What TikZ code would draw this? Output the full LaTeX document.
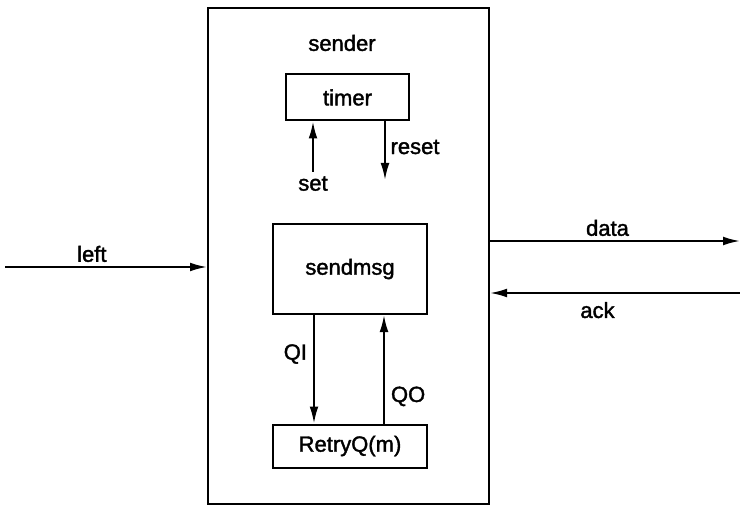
\documentclass[tikz,border=0pt]{standalone}
\usepackage{fontspec}
\setmainfont{Liberation Sans}[BoldFont=Liberation Sans,BoldFeatures={FakeBold=1.6}]
\usepackage{tikz}
\usetikzlibrary{positioning,arrows.meta}

\begin{document}
\begin{tikzpicture}[
    x=0.5pt,y=-0.5pt,
    box/.style={draw,line width=1pt,inner sep=0pt,font=\fontsize{11}{13}\selectfont\bfseries},
    lbl/.style={inner sep=1pt,font=\fontsize{11}{13}\selectfont\bfseries},
    arr/.style={line width=1pt,-{Latex[length=8.5pt,width=4.4pt]}}
  ]
    \useasboundingbox (0,0) rectangle (740,508);
    % outer process box
    \node[box,minimum width=140.5pt,minimum height=248pt] (sender) at (348.5,256) {};
    \node[lbl] (sendername) at (342,43) {sender};
    % inner boxes
    \node[box,minimum width=61.5pt,minimum height=23pt] (timer) at (347.5,97.5) {timer};
    \node[box,minimum width=77pt,minimum height=45pt] (sendmsg) at (350,269) {sendmsg};
    \node[box,minimum width=77pt,minimum height=21.5pt] (retry) at (350,446) {RetryQ(m)};
    % free ends
    \coordinate (setin) at (313,172);
    \coordinate (resetout) at (385,180);
    \coordinate (leftin) at (5,267);
    \coordinate (dataout) at (740,241);
    \coordinate (ackin) at (740,293);
    % timer signals
    \draw[arr] (setin) -- (setin |- timer.south);
    \draw[arr] (resetout |- timer.south) -- (resetout);
    \node[lbl,below=1pt of setin] (setlbl) {set};
    \node[lbl] (resetlbl) at (415,147) {reset};
    % queue
    \draw[arr] ([xshift=-18pt]sendmsg.south) -- ([xshift=-18pt]retry.north) node[lbl,pos=0.36,left=2pt] (qilbl) {QI};
    \draw[arr] ([xshift=17pt]retry.north) -- ([xshift=17pt]sendmsg.south) node[lbl,pos=0.25,right=2pt] (qolbl) {QO};
    % external channels
    \draw[arr] (leftin) -- (leftin -| sender.west) node[lbl,pos=0.43,above=1pt] (leftlbl) {left};
    \draw[arr] (dataout -| sender.east) -- (dataout) node[lbl,pos=0.47,above=1pt] (datalbl) {data};
    \draw[arr] (ackin) -- (ackin -| sender.east) node[lbl,pos=0.57,below=3pt] (acklbl) {ack};
  \end{tikzpicture}
\end{document}
